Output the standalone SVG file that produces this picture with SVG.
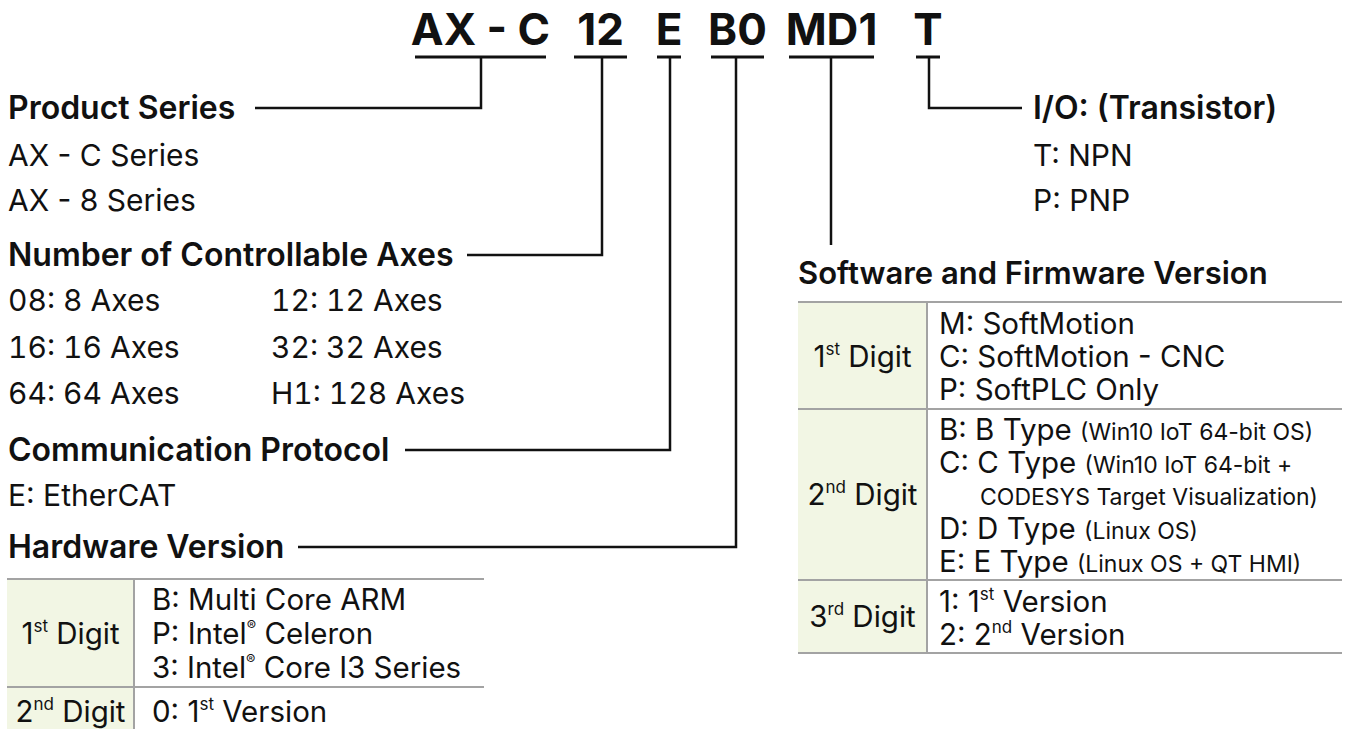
<svg xmlns="http://www.w3.org/2000/svg" width="1348" height="729" viewBox="0 0 1348 729">
<style>
text{font-family:Inter,"Noto Sans","Liberation Sans",sans-serif;fill:#111}
.title{font-size:44px;font-weight:700;text-anchor:middle}
.h{font-size:32px;font-weight:600}
.b{font-size:30px}
.n{font-variant-numeric:tabular-nums}
.t{font-size:29.5px}
.s{font-size:23px}
.c{text-anchor:middle}
.ul{stroke:#111;stroke-width:3}
.con{fill:none;stroke:#111;stroke-width:2.5}
.grid{stroke:#a3a3a3;stroke-width:2;fill:none}
.lab{fill:#f2f6e4}
</style>
<g id="code">
<text class="title" x="480.5" y="45">AX - C</text>
<text class="title" x="600.5" y="45">12</text>
<text class="title" x="669" y="45">E</text>
<text class="title" x="737.5" y="45">B0</text>
<text class="title" x="831.5" y="45">MD1</text>
<text class="title" x="928" y="45">T</text>
<line class="ul" x1="415" y1="57" x2="546" y2="57"/>
<line class="ul" x1="574" y1="57" x2="627" y2="57"/>
<line class="ul" x1="657" y1="57" x2="681" y2="57"/>
<line class="ul" x1="711" y1="57" x2="764" y2="57"/>
<line class="ul" x1="789" y1="57" x2="874" y2="57"/>
<line class="ul" x1="916" y1="57" x2="940" y2="57"/>
</g>
<g id="connectors">
<path class="con" d="M481,57V108H255"/>
<path class="con" d="M602,57V255H467"/>
<path class="con" d="M670,57V450H405"/>
<path class="con" d="M736,57V547H298"/>
<path class="con" d="M831,57V245"/>
<path class="con" d="M929,57V108H1022"/>
</g>
<g id="product-series">
<text class="h" x="8" y="119">Product Series</text>
<text class="b" x="8" y="166">AX - C Series</text>
<text class="b" x="8" y="211">AX - 8 Series</text>
</g>
<g id="axes">
<text class="h" x="8" y="266">Number of Controllable Axes</text>
<text class="b n" x="8" y="311">08: 8 Axes</text>
<text class="b n" x="8" y="358">16: 16 Axes</text>
<text class="b n" x="8" y="404">64: 64 Axes</text>
<text class="b n" x="271" y="311">12: 12 Axes</text>
<text class="b n" x="271" y="358">32: 32 Axes</text>
<text class="b n" x="271" y="404">H1: 128 Axes</text>
</g>
<g id="protocol">
<text class="h" x="8" y="461">Communication Protocol</text>
<text class="b" x="8" y="506">E: EtherCAT</text>
</g>
<g id="hardware">
<text class="h" x="8" y="558">Hardware Version</text>
<rect class="lab" x="7" y="579" width="127" height="150"/>
<path class="grid" d="M7,579H484M7,687H484M134,579V729"/>
<text class="t c" x="70.5" y="644">1<tspan dy="-12" font-size="17">st</tspan><tspan dy="12"> Digit</tspan></text>
<text class="t c" x="70.5" y="722">2<tspan dy="-12" font-size="17">nd</tspan><tspan dy="12"> Digit</tspan></text>
<text class="t" x="152" y="610">B: Multi Core ARM</text>
<text class="t" x="152" y="644">P: Intel<tspan dy="-13" font-size="14">®</tspan><tspan dy="13"> Celeron</tspan></text>
<text class="t" x="152" y="678">3: Intel<tspan dy="-13" font-size="14">®</tspan><tspan dy="13"> Core I3 Series</tspan></text>
<text class="t" x="152" y="722">0: 1<tspan dy="-12" font-size="17">st</tspan><tspan dy="12"> Version</tspan></text>
</g>
<g id="software">
<text class="h" x="798" y="284" style="font-size:31px">Software and Firmware Version</text>
<rect class="lab" x="798" y="302" width="129" height="351"/>
<path class="grid" d="M798,302H1342M798,409H1342M798,580H1342M798,653H1342M927,302V653"/>
<text class="t c" x="862.5" y="367">1<tspan dy="-12" font-size="17">st</tspan><tspan dy="12"> Digit</tspan></text>
<text class="t c" x="862.5" y="505">2<tspan dy="-12" font-size="17">nd</tspan><tspan dy="12"> Digit</tspan></text>
<text class="t c" x="862.5" y="627">3<tspan dy="-12" font-size="17">rd</tspan><tspan dy="12"> Digit</tspan></text>
<text class="t" x="939" y="334">M: SoftMotion</text>
<text class="t" x="939" y="367">C: SoftMotion - CNC</text>
<text class="t" x="939" y="400">P: SoftPLC Only</text>
<text class="t" x="939" y="440">B: B Type <tspan class="s">(Win10 IoT 64-bit OS)</tspan></text>
<text class="t" x="939" y="473">C: C Type <tspan class="s">(Win10 IoT 64-bit +</tspan></text>
<text class="s" x="980" y="505">CODESYS Target Visualization)</text>
<text class="t" x="939" y="539">D: D Type <tspan class="s">(Linux OS)</tspan></text>
<text class="t" x="939" y="572">E: E Type <tspan class="s">(Linux OS + QT HMI)</tspan></text>
<text class="t" x="939" y="612">1: 1<tspan dy="-12" font-size="17">st</tspan><tspan dy="12"> Version</tspan></text>
<text class="t" x="939" y="645">2: 2<tspan dy="-12" font-size="17">nd</tspan><tspan dy="12"> Version</tspan></text>
</g>
<g id="io">
<text class="h" x="1033" y="119">I/O: (Transistor)</text>
<text class="b" x="1033" y="166">T: NPN</text>
<text class="b" x="1033" y="211">P: PNP</text>
</g>
</svg>
